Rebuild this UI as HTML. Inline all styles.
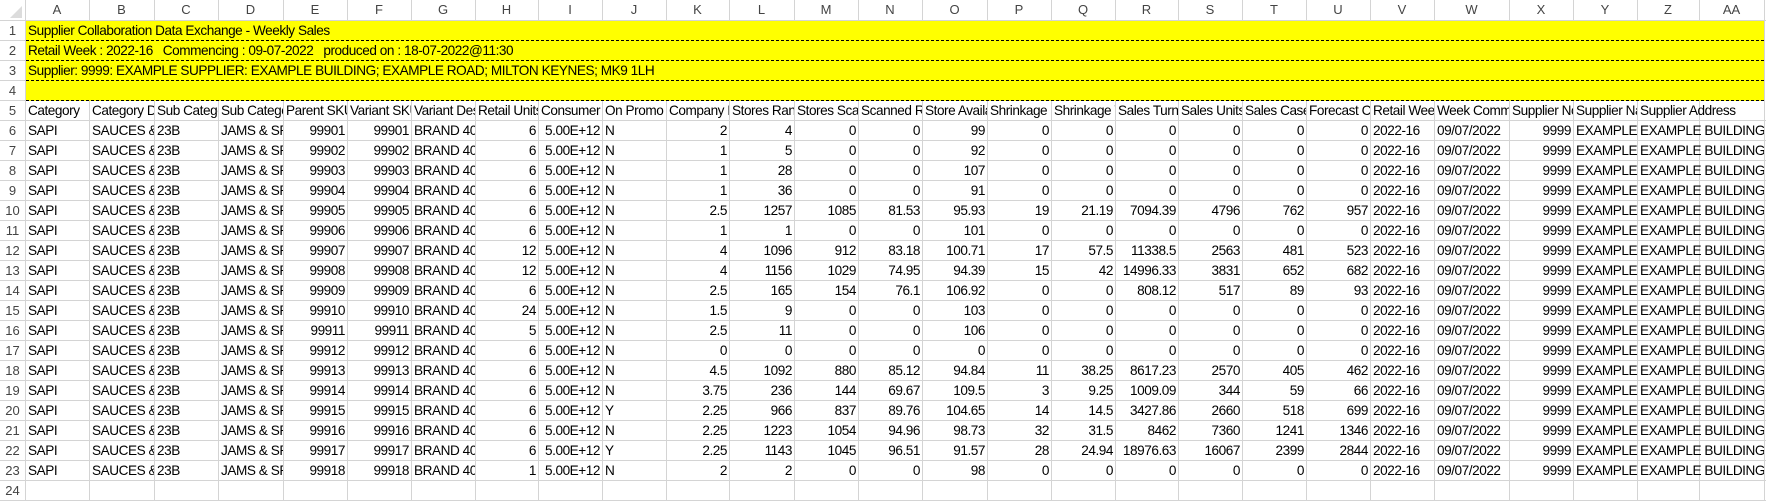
<!DOCTYPE html>
<html><head><meta charset="utf-8">
<style>
body{margin:0;width:1766px;height:501px;overflow:hidden;background:#fff;font-family:"Liberation Sans",sans-serif;}
#sheet{position:absolute;left:0;top:0;width:1766px;height:501px;}
.c{position:absolute;box-sizing:border-box;font-size:13.6px;line-height:20px;white-space:nowrap;overflow:hidden;color:#000;padding:0 2px;letter-spacing:-0.45px;}
.r{text-align:right;}
.hd{position:absolute;box-sizing:border-box;text-align:center;font-size:13px;color:#444;line-height:20px;}
.rh{position:absolute;box-sizing:border-box;text-align:center;font-size:13px;color:#444;line-height:20px;}
.vl{position:absolute;width:1px;background:#d4d4d4;}
.hl{position:absolute;height:1px;background:#d4d4d4;}
.dl{position:absolute;height:0;border-top:1px dashed #000;}
</style></head><body>
<div id="sheet"></div>
<script>
const colEdges=[25,89,154,218,283,347,411,475,538,602,666,729,794,858,922,987,1051,1115,1178,1242,1306,1370,1434,1509,1573,1637,1699,1764];
const colLetters=["A","B","C","D","E","F","G","H","I","J","K","L","M","N","O","P","Q","R","S","T","U","V","W","X","Y","Z","AA"];
const headers=["Category","Category Description","Sub Category","Sub Category Description","Parent SKU","Variant SKU","Variant Description","Retail Units","Consumer Unit","On Promo","Company Price","Stores Ranged","Stores Scanned","Scanned Rate","Store Availability","Shrinkage","Shrinkage Value","Sales Turnover","Sales Units","Sales Cases","Forecast Cases","Retail Week","Week Commencing","Supplier No","Supplier Name","Supplier Address"];
const skus=[99901,99902,99903,99904,99905,99906,99907,99908,99909,99910,99911,99912,99913,99914,99915,99916,99917,99918];
const units=[6,6,6,6,6,6,12,12,6,24,5,6,6,6,6,6,6,1];
const promo=["N","N","N","N","N","N","N","N","N","N","N","N","N","N","Y","N","Y","N"];
const company=[2,1,1,1,2.5,1,4,4,2.5,1.5,2.5,0,4.5,3.75,2.25,2.25,2.25,2];
const ranged=[4,5,28,36,1257,1,1096,1156,165,9,11,0,1092,236,966,1223,1143,2];
const scanned=[0,0,0,0,1085,0,912,1029,154,0,0,0,880,144,837,1054,1045,0];
const scanRate=[0,0,0,0,81.53,0,83.18,74.95,76.1,0,0,0,85.12,69.67,89.76,94.96,96.51,0];
const avail=[99,92,107,91,95.93,101,100.71,94.39,106.92,103,106,0,94.84,109.5,104.65,98.73,91.57,98];
const shrink=[0,0,0,0,19,0,17,15,0,0,0,0,11,3,14,32,28,0];
const shrinkVal=[0,0,0,0,21.19,0,57.5,42,0,0,0,0,38.25,9.25,14.5,31.5,24.94,0];
const turnover=[0,0,0,0,7094.39,0,11338.5,14996.33,808.12,0,0,0,8617.23,1009.09,3427.86,8462,18976.63,0];
const salesUnits=[0,0,0,0,4796,0,2563,3831,517,0,0,0,2570,344,2660,7360,16067,0];
const salesCases=[0,0,0,0,762,0,481,652,89,0,0,0,405,59,518,1241,2399,0];
const forecast=[0,0,0,0,957,0,523,682,93,0,0,0,462,66,699,1346,2844,0];
const titles=["Supplier Collaboration Data Exchange - Weekly Sales","Retail Week : 2022-16\u00a0\u00a0 Commencing : 09-07-2022\u00a0\u00a0 produced on : 18-07-2022@11:30","Supplier: 9999: EXAMPLE SUPPLIER: EXAMPLE BUILDING; EXAMPLE ROAD; MILTON KEYNES; MK9 1LH",""];

const S=document.getElementById('sheet');
const HDR=20, RH=20, TOP=21;
function rowTop(r){return TOP+(r-1)*RH;}
function add(cls,css,text){const d=document.createElement('div');d.className=cls;Object.assign(d.style,css);if(text!==undefined)d.textContent=text;S.appendChild(d);return d;}

for(let i=0;i<colEdges.length;i++){
  const l=add('vl',{left:colEdges[i]+'px',top:'0px',height:'501px'});
  
  
}
const cover=add('',{position:'absolute',left:'26px',top:rowTop(1)+'px',width:(1764-26)+'px',height:(4*RH)+'px',background:'#ffff00'});


for(let r=0;r<=24;r++){
  const yy=r===0?HDR:rowTop(r)+RH-1;
  if(r>=0&&r<=4){
    const d=add('dl',{left:'26px',top:yy+'px',width:(1764-26)+'px'});
    
    
    if(r===0){d.style.border='none';d.style.height='1px';d.style.background='#bdbdbd';}
  }
  const h=add('hl',{left:'0px',top:yy+'px',width:(r<=4&&r>0?25:1766)+'px'});
  
  
}

for(let i=0;i<colLetters.length;i++){
  const h=add('hd',{left:colEdges[i]+'px',top:'0px',width:(colEdges[i+1]-colEdges[i])+'px',height:HDR+'px'},colLetters[i]);
  
  
}
const corner=add('',{position:'absolute',left:'10px',top:'6px',width:'0',height:'0',borderLeft:'12px solid transparent',borderBottom:'12px solid #dcdcdc'});



for(let r=1;r<=24;r++){
  const h=add('rh',{left:'0px',top:rowTop(r)+'px',width:'25px',height:RH+'px'},String(r));
  
  
}

for(let r=0;r<4;r++){
  const t=add('c',{left:'26px',top:rowTop(r+1)+'px',width:'1200px',height:RH+'px'},titles[r]);
  
  
}

function cell(row,col,text,right,wide){
  const l=colEdges[col]+1;
  const w=wide?(colEdges[colEdges.length-1]-l):(colEdges[col+1]-l);
  return add('c'+(right?' r':''),{left:l+'px',top:rowTop(row)+'px',width:w+'px',height:RH+'px'},text);
}
for(let i=0;i<headers.length;i++){
  const d=cell(5,i,headers[i],false,i===headers.length-1);
  
  
}
for(let k=0;k<skus.length;k++){
  const row=6+k;
  const vals=[["SAPI",0],["SAUCES & SPREADS",0],["23B",0],["JAMS & SPREADS",0],[skus[k],1],[skus[k],1],["BRAND 40",0],[units[k],1],["5.00E+12",1],[promo[k],0],[company[k],1],[ranged[k],1],[scanned[k],1],[scanRate[k],1],[avail[k],1],[shrink[k],1],[shrinkVal[k],1],[turnover[k],1],[salesUnits[k],1],[salesCases[k],1],[forecast[k],1],["2022-16",0],["09/07/2022",0],[9999,1],["EXAMPLE SUPPLIER",0],["EXAMPLE BUILDING; EXAMPLE ROAD; MILTON KEYNES",0]];
  for(let i=0;i<vals.length;i++){
    const d=cell(row,i,String(vals[i][0]),vals[i][1]===1,i===vals.length-1);
    
    
  }
}
</script>
</body></html>
